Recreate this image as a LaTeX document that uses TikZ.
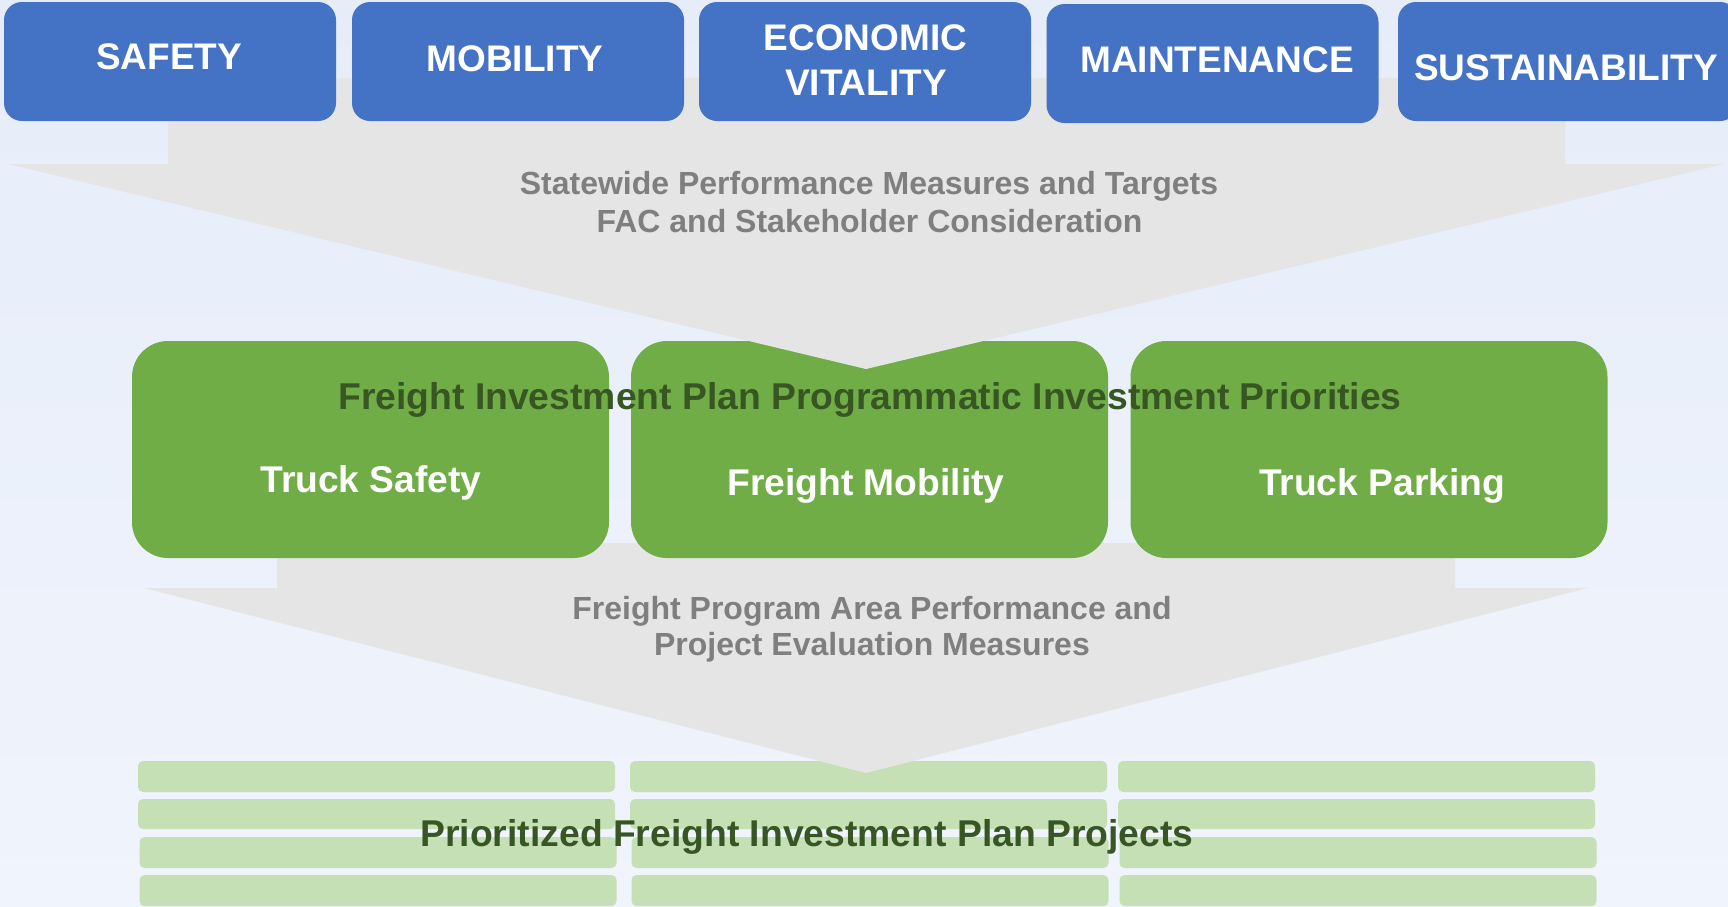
\documentclass[tikz,border=0pt]{standalone}
\usepackage{fontspec}
\setmainfont{Liberation Sans}
\usetikzlibrary{calc}

\definecolor{bgtop}{HTML}{E6EDF9}
\definecolor{bgbot}{HTML}{F0F4FC}
\definecolor{goalblue}{HTML}{4472C4}
\definecolor{prioritygreen}{HTML}{70AD47}
\definecolor{projectgreen}{HTML}{C5E0B4}
\definecolor{funnelgray}{HTML}{E5E5E5}
\definecolor{notegray}{HTML}{7F7F7F}
\definecolor{darkgreen}{HTML}{375623}

\tikzset{
  goalbox/.style={fill=goalblue, rounded corners=18pt, inner sep=0pt,
    minimum width=332pt, minimum height=119pt},
  goaltext/.style={text=white, inner sep=0pt, anchor=base,
    font=\fontsize{37}{44}\selectfont\bfseries},
  prioritybox/.style={fill=prioritygreen, rounded corners=36pt, inner sep=0pt,
    minimum width=477pt, minimum height=217pt},
  prioritytext/.style={text=white, inner sep=0pt, anchor=base,
    font=\fontsize{37.2}{44}\selectfont\bfseries},
  funnel/.style={fill=funnelgray},
  notetext/.style={text=notegray, inner sep=0pt, anchor=base,
    font=\fontsize{32}{38}\selectfont\bfseries},
  headtext/.style={text=darkgreen, inner sep=0pt, anchor=base,
    font=\fontsize{37.3}{44}\selectfont\bfseries},
  projectbar/.style={fill=projectgreen, rounded corners=5pt},
}

\begin{document}
\begin{tikzpicture}[x=1pt, y=-1pt]
  % page background
  \shade[top color=bgtop, bottom color=bgbot] (0,0) rectangle (1728,906);
  \useasboundingbox (0,0) rectangle (1728,906);

  % project bars: three columns, four rows
  \foreach \ya/\yb/\dx in {761/792/0, 799/829/0, 837/868/1.5, 875/906/1.5}{
    \foreach \xa/\xb in {138/615, 630/1107, 1118/1595}{
      \fill[projectbar] (\xa+\dx,\ya) rectangle (\xb+\dx,\yb);
    }
  }

  % lower funnel arrow
  \fill[funnel] (277,543) -- (1455,543) -- (1455,588) -- (1588,588)
    -- (866,773) -- (144,588) -- (277,588) -- cycle;

  % programmatic priorities
  \node[prioritybox] (truck) at (370.5,449.5) {};
  \node[prioritybox] (mobil) at (869.5,449.5) {};
  \node[prioritybox] (park)  at (1369,449.5) {};

  % upper funnel arrow
  \fill[funnel] (168,78) -- (1565,78) -- (1565,164) -- (1724,164)
    -- (866,369) -- (8,164) -- (168,164) -- cycle;

  % goal areas
  \node[goalbox] (safety) at (170,61.5) {};
  \node[goalbox] (mobility) at (518,61.5) {};
  \node[goalbox] (econ) at (865,61.5) {};
  \node[goalbox] (maint) at (1212.5,63.5) {};
  \node[goalbox, minimum width=340pt] (sustain) at (1568,61.5) {};

  \node[goaltext] (tsafety) at (169,69) {SAFETY};
  \node[goaltext] (tmobility) at (515,71) {MOBILITY};
  \node[goaltext] (tecon1) at (865.5,50.5) {ECONOMIC};
  \node[goaltext] (tecon2) at (866,95.5) {VITALITY};
  \node[goaltext] (tmaint) at (1217,72.5) {MAINTENANCE};
  \node[goaltext] (tsustain) at (1566,80) {SUSTAINABILITY};

  % funnel notes
  \node[notetext] (note1a) at (869,194) {Statewide Performance Measures and Targets};
  \node[notetext] (note1b) at (869.5,232) {FAC and Stakeholder Consideration};
  \node[notetext] (note2a) at (872,619) {Freight Program Area Performance and};
  \node[notetext] (note2b) at (872,655) {Project Evaluation Measures};

  % priority labels
  \node[headtext] (prihead) at (870,409) {Freight Investment Plan Programmatic Investment Priorities};
  \node[prioritytext] (ttruck) at (371,492) {Truck Safety};
  \node[prioritytext] (tmobil) at (866,495) {Freight Mobility};
  \node[prioritytext] (tpark) at (1382,495) {Truck Parking};

  % project list label
  \node[headtext] (projhead) at (807,846.5) {Prioritized Freight Investment Plan Projects};
\end{tikzpicture}
\end{document}
